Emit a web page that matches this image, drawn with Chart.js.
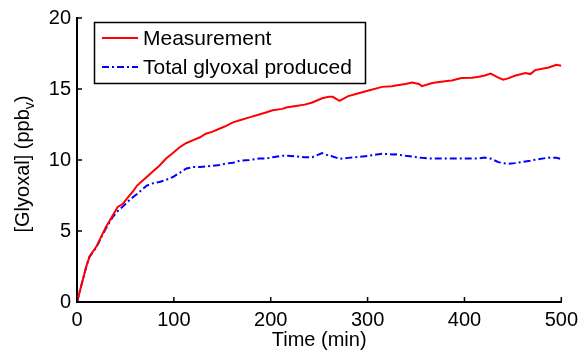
<!DOCTYPE html>
<html>
<head>
<meta charset="utf-8">
<script src="https://cdn.jsdelivr.net/npm/chart.js@4/dist/chart.umd.min.js"></script>
<style>
  body { margin: 0; background: #fff; }
  canvas { display: block; }
</style>
</head>
<body>
<canvas id="myChart" width="584" height="355"></canvas>
<script>
// time (min)
const times = [0, 5, 10, 13, 20, 25, 30, 37, 42, 47, 53, 58, 62, 67, 72, 80, 85, 92, 99, 106,
  113, 120, 127, 133, 140, 147, 154, 161, 168, 178, 188, 195, 202, 212, 216, 226, 235, 243, 253, 260,
  264, 271, 280, 288, 301, 315, 325, 329, 339, 346, 353, 356, 366, 370, 384, 387, 397, 408, 415, 421,
  427, 435, 440, 445, 452, 459, 463, 468, 473, 487, 495, 500];

// glyoxal measured (ppbv)
const measurement = [0, 1.3, 2.6, 3.2, 3.9, 4.6, 5.3, 6.1, 6.7, 6.9, 7.4, 7.8, 8.2, 8.5, 8.8, 9.3, 9.6, 10.1, 10.5, 10.9,
  11.2, 11.4, 11.6, 11.85, 12.0, 12.2, 12.4, 12.65, 12.8, 13.0, 13.2, 13.35, 13.5, 13.6, 13.7, 13.8, 13.9, 14.05, 14.35, 14.45,
  14.45, 14.17, 14.5, 14.65, 14.9, 15.15, 15.2, 15.25, 15.35, 15.46, 15.35, 15.2, 15.4, 15.46, 15.58, 15.6, 15.77, 15.8, 15.86, 15.95,
  16.09, 15.8, 15.65, 15.75, 15.93, 16.05, 16.12, 16.05, 16.33, 16.51, 16.7, 16.63];

// total glyoxal produced (ppbv)
const produced = [0, 1.3, 2.6, 3.2, 3.85, 4.55, 5.2, 6.0, 6.4, 6.7, 7.1, 7.4, 7.6, 7.9, 8.2, 8.4, 8.45, 8.6, 8.8, 9.1,
  9.4, 9.5, 9.5, 9.55, 9.6, 9.65, 9.75, 9.8, 9.95, 10.0, 10.1, 10.1, 10.2, 10.3, 10.3, 10.25, 10.2, 10.2, 10.48, 10.3,
  10.25, 10.08, 10.15, 10.2, 10.3, 10.44, 10.39, 10.4, 10.3, 10.25, 10.17, 10.15, 10.1, 10.1, 10.1, 10.1, 10.1, 10.1, 10.12, 10.17,
  10.1, 9.85, 9.78, 9.74, 9.78, 9.85, 9.9, 9.95, 10.02, 10.17, 10.15, 10.06];

const xTicks = [0, 100, 200, 300, 400, 500];
const yTicks = [0, 5, 10, 15, 20];

const FONT = '"Liberation Sans", Arial, sans-serif';

const toPoints = (ys) => times.map((t, i) => ({ x: t, y: ys[i] }));

// ticks pointing inward, legend box and y title with subscript
const extras = {
  id: 'extras',
  afterDraw(chart) {
    const ctx = chart.ctx;
    const xs = chart.scales.x, ys = chart.scales.y;
    const area = chart.chartArea;
    ctx.save();
    ctx.strokeStyle = '#000';
    ctx.lineWidth = 1.5;
    ctx.beginPath();
    xTicks.forEach(v => {
      const px = xs.getPixelForValue(v);
      ctx.moveTo(px, area.bottom);
      ctx.lineTo(px, area.bottom - 5);
    });
    yTicks.forEach(v => {
      const py = ys.getPixelForValue(v);
      ctx.moveTo(area.left, py);
      ctx.lineTo(area.left + 5, py);
    });
    ctx.stroke();

    // legend
    ctx.lineWidth = 1.5;
    ctx.strokeRect(94.5, 22.5, 271, 61);
    ctx.font = '21px ' + FONT;
    ctx.fillStyle = '#000';
    ctx.textBaseline = 'middle';
    const rows = [38, 67];
    chart.data.datasets.forEach((ds, i) => {
      ctx.beginPath();
      ctx.strokeStyle = ds.borderColor;
      ctx.lineWidth = 2;
      ctx.setLineDash(ds.borderDash || []);
      ctx.moveTo(102, rows[i]);
      ctx.lineTo(138, rows[i]);
      ctx.stroke();
      ctx.setLineDash([]);
      ctx.fillText(ds.label, 143, rows[i] + 1);
    });

    // y title
    const main = '[Glyoxal] (ppb';
    ctx.font = '20px ' + FONT;
    const w1 = ctx.measureText(main).width;
    ctx.font = '14px ' + FONT;
    const w2 = ctx.measureText('v').width;
    ctx.font = '20px ' + FONT;
    const w3 = ctx.measureText(')').width;
    const total = w1 + w2 + w3;
    ctx.translate(23, (area.top + area.bottom) / 2 + 4);
    ctx.rotate(-Math.PI / 2);
    ctx.textAlign = 'left';
    ctx.textBaseline = 'middle';
    let x0 = -total / 2;
    ctx.fillText(main, x0, 0);
    ctx.font = '14px ' + FONT;
    ctx.fillText('v', x0 + w1, 7);
    ctx.font = '20px ' + FONT;
    ctx.fillText(')', x0 + w1 + w2, 0);
    ctx.restore();
  }
};

const ctx = document.getElementById('myChart').getContext('2d');
new Chart(ctx, {
  type: 'line',
  data: {
    datasets: [
      {
        label: 'Measurement',
        data: toPoints(measurement),
        borderColor: '#ff0000',
        borderWidth: 2,
        pointRadius: 0,
        tension: 0,
        fill: false
      },
      {
        label: 'Total glyoxal produced',
        data: toPoints(produced),
        borderColor: '#0000ff',
        borderWidth: 2,
        borderDash: [7, 3, 2, 3],
        pointRadius: 0,
        tension: 0,
        fill: false
      }
    ]
  },
  options: {
    responsive: false,
    animation: false,
    layout: { padding: { left: 0, top: 17, right: 21, bottom: 0 } },
    plugins: {
      legend: { display: false },
      tooltip: { enabled: false }
    },
    scales: {
      x: {
        type: 'linear',
        min: 0,
        max: 500,
        afterBuildTicks: (s) => { s.ticks = xTicks.map(v => ({ value: v })); },
        afterFit: (s) => { s.height = 53; },
        grid: { display: false, drawTicks: false },
        border: { display: true, color: '#000', width: 2 },
        ticks: { color: '#000', font: { size: 20, family: FONT }, padding: 6, maxRotation: 0 },
        title: {
          display: true,
          text: 'Time (min)',
          color: '#000',
          font: { size: 20, family: FONT },
          padding: { top: 0, bottom: 3 }
        }
      },
      y: {
        min: 0,
        max: 20,
        afterBuildTicks: (s) => { s.ticks = yTicks.map(v => ({ value: v })); },
        afterFit: (s) => { s.width = 77; },
        grid: { display: false, drawTicks: false },
        border: { display: true, color: '#000', width: 2 },
        ticks: { color: '#000', font: { size: 20, family: FONT }, padding: 6 }
      }
    }
  },
  plugins: [extras]
});
</script>
</body>
</html>
